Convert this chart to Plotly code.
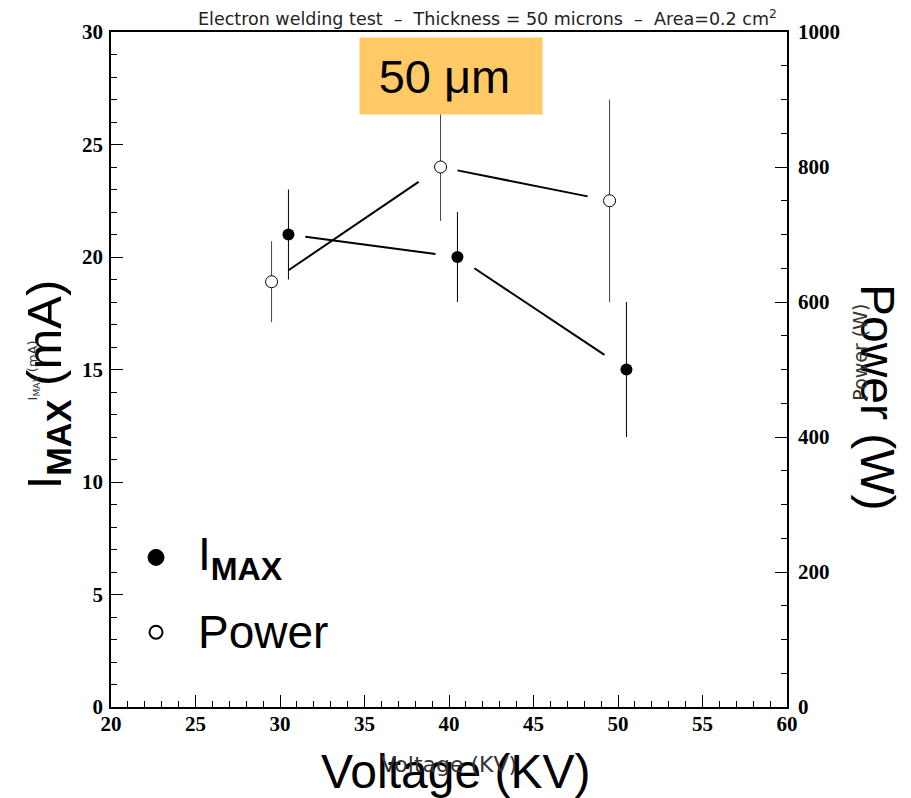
import numpy as np
import plotly.graph_objects as go

# ---------------- data ----------------
imax_voltage = [30.5, 40.5, 50.5]          # KV
imax_current = [21.0, 20.0, 15.0]          # mA
imax_err = [2.0, 2.0, 3.0]

power_voltage = [29.5, 39.5, 49.5]         # KV
power_watt = [630.0, 800.0, 750.0]         # W
power_err = [60.0, 80.0, 150.0]

x_ticks = [20, 25, 30, 35, 40, 45, 50, 55, 60]
y_ticks = [0, 5, 10, 15, 20, 25, 30]
y2_ticks = [0, 200, 400, 600, 800, 1000]

title_text = "Electron welding test\u00a0\u00a0–\u00a0\u00a0Thickness = 50 microns\u00a0\u00a0–\u00a0\u00a0Area=0.2 cm<sup>2</sup>"

# --------------- helpers ---------------
GAP0, GAP1 = 0.10, 0.87


def gapped_segments(xs, ys):
    xs = np.asarray(xs, float)
    ys = np.asarray(ys, float)
    sx, sy = [], []
    for i in range(len(xs) - 1):
        for t in (GAP0, GAP1):
            sx.append(xs[i] + t * (xs[i + 1] - xs[i]))
            sy.append(ys[i] + t * (ys[i + 1] - ys[i]))
        sx.append(None)
        sy.append(None)
    return sx, sy


fig = go.Figure()

# connecting lines (with gaps around markers, ROOT style)
lx, ly = gapped_segments(imax_voltage, imax_current)
fig.add_trace(go.Scatter(x=lx, y=ly, mode="lines", line=dict(color="black", width=2),
                         showlegend=False, hoverinfo="skip"))
px_, py_ = gapped_segments(power_voltage, power_watt)
fig.add_trace(go.Scatter(x=px_, y=py_, mode="lines", line=dict(color="black", width=2),
                         yaxis="y2", showlegend=False, hoverinfo="skip"))

# I_MAX points
fig.add_trace(go.Scatter(
    x=imax_voltage, y=imax_current, mode="markers", name="I_MAX",
    marker=dict(symbol="circle", size=12, color="black"),
    error_y=dict(type="data", array=imax_err, visible=True, thickness=1, width=0, color="black"),
    showlegend=False))

# Power points
fig.add_trace(go.Scatter(
    x=power_voltage, y=power_watt, mode="markers", name="Power", yaxis="y2",
    marker=dict(symbol="circle", size=12, color="white", line=dict(color="black", width=1)),
    error_y=dict(type="data", array=power_err, visible=True, thickness=1, width=0, color="#444"),
    showlegend=False))

tickfont = dict(family="Liberation Serif", size=21, color="black", weight="bold")

fig.update_layout(
    width=903, height=790,
    margin=dict(l=103, r=124, t=22, b=91),
    paper_bgcolor="white", plot_bgcolor="white",
    showlegend=False,
    xaxis=dict(range=[20, 60], tickvals=x_ticks, ticks="inside", ticklen=12, tickwidth=1,
               tickcolor="black", showline=True, linecolor="black", linewidth=1.5,
               mirror=True, showgrid=False, zeroline=False, tickfont=tickfont,
               ticklabelstandoff=-3,
               minor=dict(dtick=1, ticks="inside", ticklen=6, tickwidth=1, tickcolor="black",
                          showgrid=False)),
    yaxis=dict(range=[0, 30], tickvals=y_ticks, ticks="inside", ticklen=12, tickwidth=1,
               tickcolor="black", showline=True, linecolor="black", linewidth=1.5,
               showgrid=False, zeroline=False, tickfont=tickfont,
               ticklabelstandoff=2,
               minor=dict(dtick=1, ticks="inside", ticklen=6, tickwidth=1, tickcolor="black",
                          showgrid=False)),
    yaxis2=dict(range=[0, 1000], tickvals=y2_ticks, overlaying="y", side="right", anchor="x",
                ticks="inside", ticklen=12, tickwidth=1, tickcolor="black",
                showline=True, linecolor="black", linewidth=1.5,
                showgrid=False, zeroline=False, tickfont=tickfont,
                ticklabelstandoff=5,
                minor=dict(dtick=50, ticks="inside", ticklen=6, tickwidth=1, tickcolor="black",
                           showgrid=False)),
)

sans = "Liberation Sans, Arial, sans-serif"
thin = "DejaVu Sans ExtraLight, DejaVu Sans, sans-serif"

ann = [
    # title
    dict(text=title_text, x=0.988, y=1.0207, xanchor="right", yanchor="middle",
         font=dict(family=thin, size=17.5, color="#222")),
    # orange label box
    dict(text="50 μm\u00a0", x=0.503, y=0.935, xanchor="center", yanchor="middle",
         bgcolor="#FFC966", width=182, height=76, borderpad=0,
         font=dict(family=sans, size=47, color="black")),
    # x axis titles (big + small overlapping)
    dict(text="Voltage (KV)", x=0.509, y=-0.096, xanchor="center", yanchor="middle",
         font=dict(family=sans, size=48, color="black")),
    dict(text="Voltage (KV)", x=0.50, y=-0.0857, xanchor="center", yanchor="middle",
         font=dict(family=thin, size=22, color="#333")),
    # left axis titles
    dict(text="I<sub><b>MAX</b></sub> (mA)", x=-0.0947, y=0.478, xanchor="center", yanchor="middle",
         textangle=-90, font=dict(family=sans, size=49, color="black")),
    dict(text="I<sub>MAX</sub> (mA)", x=-0.115, y=0.499, xanchor="center", yanchor="middle",
         textangle=-90, font=dict(family=thin, size=13, color="#333")),
    # right axis titles
    dict(text="Power (W)", x=1.133, y=0.458, xanchor="center", yanchor="middle",
         textangle=90, font=dict(family=sans, size=48, color="black")),
    dict(text="Power (W)", x=1.108, y=0.525, xanchor="center", yanchor="middle",
         textangle=-90, font=dict(family=thin, size=19, color="#333")),
    # legend labels
    dict(text="I<sub><b>MAX</b></sub>", x=0.1258, y=0.2216, xanchor="left", yanchor="middle",
         font=dict(family=sans, size=46, color="black")),
    dict(text="Power", x=0.1258, y=0.1108, xanchor="left", yanchor="middle",
         font=dict(family=sans, size=46, color="black")),
]
for a in ann:
    a.setdefault("xref", "paper")
    a.setdefault("yref", "paper")
    a.setdefault("showarrow", False)
fig.update_layout(annotations=ann)

# legend symbols
fig.update_layout(shapes=[
    dict(type="circle", xref="paper", yref="paper", xsizemode="pixel", ysizemode="pixel",
         xanchor=0.0666, yanchor=0.2216, x0=-8, x1=8, y0=-8, y1=8,
         fillcolor="black", line=dict(color="black", width=1)),
    dict(type="circle", xref="paper", yref="paper", xsizemode="pixel", ysizemode="pixel",
         xanchor=0.0666, yanchor=0.1108, x0=-6.5, x1=6.5, y0=-6.5, y1=6.5,
         fillcolor="white", line=dict(color="black", width=2)),
])

fig.write_html("out.html")
